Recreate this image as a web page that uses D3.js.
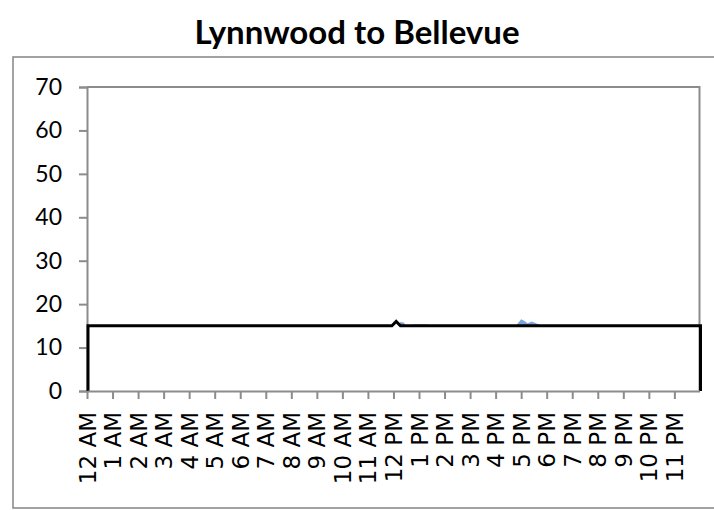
<!DOCTYPE html>
<html>
<head>
<meta charset="utf-8">
<script src="https://cdn.jsdelivr.net/npm/d3@7"></script>
<style>
  html, body { margin: 0; padding: 0; background: #fff; }
  svg { display: block; }
</style>
</head>
<body>
<svg id="chart" width="714" height="510"></svg>
<script>
// Hour labels along the time axis (minutes since midnight, one per hour)
const hourLabels = ["12 AM","1 AM","2 AM","3 AM","4 AM","5 AM","6 AM","7 AM","8 AM","9 AM","10 AM","11 AM",
                    "12 PM","1 PM","2 PM","3 PM","4 PM","5 PM","6 PM","7 PM","8 PM","9 PM","10 PM","11 PM"];
const yTicks = [0, 10, 20, 30, 40, 50, 60, 70];

// Typical travel time (minutes) by time of day
const typicalMinutes = [0, 714, 724, 734, 1439];
const typicalValues  = [15, 15, 16, 15, 15];

// Observed travel time (minutes) by time of day
const observedMinutes = [0, 728, 736, 744, 752, 768, 782, 800, 810, 1002, 1010, 1020, 1028, 1035, 1045, 1055, 1065, 1078, 1088, 1439];
const observedValues  = [14.5, 14.5, 15.9, 15.8, 14.8, 15.3, 15.3, 15.3, 14.8, 14.8, 15.3, 16.5, 16.1, 15.6, 16.0, 15.6, 15.2, 15.2, 14.8, 14.5];

const svg = d3.select("#chart");

// Outer chart frame
svg.append("rect")
  .attr("x", 13).attr("y", 57).attr("width", 720).attr("height", 451)
  .attr("fill", "none").attr("stroke", "#8c8c8c").attr("stroke-width", 1.6);

// Title
svg.append("text")
  .attr("x", 357).attr("y", 44)
  .attr("text-anchor", "middle")
  .style("font-family", "Lato, 'Open Sans', sans-serif")
  .style("font-weight", "bold")
  .style("font-size", "33px")
  .text("Lynnwood to Bellevue");

const plotLeft = 87, plotRight = 699.5, plotTop = 87, plotBottom = 391;

const x = d3.scaleLinear().domain([0, 1439]).range([plotLeft, plotRight]);
const y = d3.scaleLinear().domain([0, 70]).range([plotBottom, plotTop]);

const toPoints = (mins, vals) => mins.map((m, i) => ({ m, v: vals[i] }));

// Observed series: filled area
const observed = toPoints(observedMinutes, observedValues);
svg.append("path")
  .datum(observed)
  .attr("fill", "#7fa6db")
  .attr("d", d3.area().x(d => x(d.m)).y0(y(0)).y1(d => y(d.v)));

// Typical series: white area with black outline
const typical = toPoints(typicalMinutes, typicalValues);
svg.append("path")
  .datum(typical)
  .attr("fill", "#fff")
  .attr("d", d3.area().x(d => x(d.m)).y0(y(0)).y1(d => y(d.v)));

// Plot area border (top and right)
svg.append("path")
  .attr("d", `M${plotLeft},${plotTop}H${plotRight}V${plotBottom}`)
  .attr("fill", "none").attr("stroke", "#8c8c8c").attr("stroke-width", 2);

// Y axis
const yAxis = svg.append("g")
  .attr("transform", `translate(${plotLeft},0)`)
  .call(d3.axisLeft(y).tickValues(yTicks).tickSize(8).tickPadding(17).tickFormat(d3.format("d")));
yAxis.select(".domain").attr("stroke", "#8c8c8c").attr("stroke-width", 2);
yAxis.selectAll(".tick line").attr("stroke", "#8c8c8c").attr("stroke-width", 2);
yAxis.selectAll(".tick text")
  .style("font-family", "Lato, 'Open Sans', sans-serif")
  .style("font-size", "23px")
  .attr("fill", "#000");

// Black outline of the typical series, drawn over the plot frame
const outline = [{ m: typicalMinutes[0], v: 0 }, ...typical, { m: typicalMinutes[typicalMinutes.length - 1], v: 0 }];
svg.append("path")
  .datum(outline)
  .attr("transform", "translate(1,0)")
  .attr("fill", "none")
  .attr("stroke", "#000")
  .attr("stroke-width", 3)
  .attr("stroke-linejoin", "miter")
  .attr("d", d3.line().x(d => x(d.m)).y(d => y(d.v)));

// X axis
const xAxis = svg.append("g")
  .attr("transform", `translate(0,${plotBottom})`)
  .call(d3.axisBottom(x).tickValues(hourLabels.map((_, i) => i * 60)).tickSize(8).tickSizeOuter(0)
    .tickFormat((d, i) => hourLabels[i]));
xAxis.select(".domain").attr("stroke", "#8c8c8c").attr("stroke-width", 2);
xAxis.selectAll(".tick line").attr("stroke", "#8c8c8c").attr("stroke-width", 2);
xAxis.selectAll(".tick text")
  .style("font-family", "'DejaVu Sans', sans-serif")
  .style("font-size", "23px")
  .attr("fill", "#000")
  .attr("text-anchor", "end")
  .attr("transform", "rotate(-90)")
  .attr("x", -21)
  .attr("y", 0)
  .attr("dy", "0.35em");
</script>
</body>
</html>
